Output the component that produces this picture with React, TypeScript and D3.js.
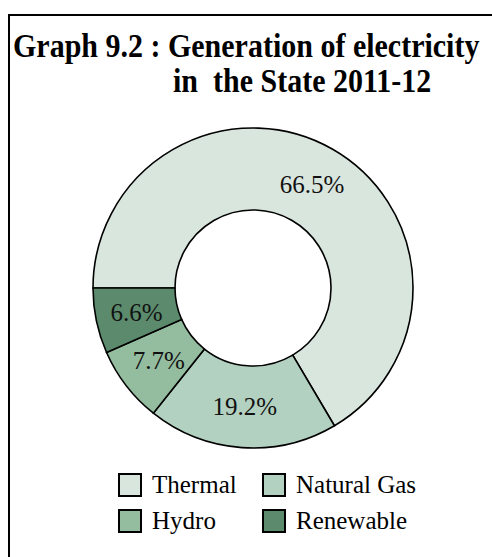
import React from "react";
import * as d3 from "d3";

const categories = ["Thermal", "Natural Gas", "Hydro", "Renewable"];
const values = [66.5, 19.2, 7.7, 6.6];
const colors = ["#d9e6de", "#b3d1c0", "#94bc9f", "#5b8a6c"];
const titleLines = ["Graph 9.2 : Generation of electricity", "in  the State 2011-12"];

export default function App() {
  const W = 492, H = 557;
  const cx = 253, cy = 288, rOuter = 160, rInner = 78;
  const pie = d3.pie<number>().sort(null).startAngle(-Math.PI / 2).endAngle((3 * Math.PI) / 2);
  const arcs = pie(values);
  const arc = d3.arc<d3.PieArcDatum<number>>().innerRadius(rInner).outerRadius(rOuter);
  const font = "'Liberation Serif', 'Times New Roman', serif";
  const legendPos = [
    [119, 474], [263, 474], [119, 510], [263, 510],
  ];
  return (
    <svg width={W} height={H} style={{ position: "absolute", left: 0, top: 0 }} fontFamily={font}>
      <rect x={0} y={0} width={W} height={H} fill="#fff" />
      <rect x={9} y={15} width={W + 20} height={H + 20} fill="none" stroke="#000" strokeWidth={2} />
      <g transform="translate(13,57) scale(1,1.12)">
        <text x={0} y={0} fontSize={30} fontWeight="bold" fill="#000">{titleLines[0]}</text>
      </g>
      <g transform="translate(173,92) scale(1,1.12)">
        <text x={0} y={0} fontSize={30} fontWeight="bold" fill="#000" style={{ whiteSpace: "pre" }}>{titleLines[1]}</text>
      </g>
      <g transform={`translate(${cx},${cy})`}>
        {arcs.map((a, i) => (
          <path key={i} d={arc(a) || ""} fill={colors[i]} stroke="#000" strokeWidth={1.6} />
        ))}
        {arcs.map((a, i) => {
          const [x, y] = arc.centroid(a);
          return (
            <text key={"l" + i} x={x} y={y} dy="0.35em" textAnchor="middle" fontSize={25} fill="#111">
              {d3.format(".1f")(values[i])}%
            </text>
          );
        })}
      </g>
      {categories.map((c, i) => (
        <g key={"lg" + i}>
          <rect x={legendPos[i][0]} y={legendPos[i][1]} width={22} height={22} fill={colors[i]} stroke="#000" strokeWidth={2} />
          <text x={legendPos[i][0] + 33} y={legendPos[i][1] + 19} fontSize={25} fill="#000">{c}</text>
        </g>
      ))}
    </svg>
  );
}
